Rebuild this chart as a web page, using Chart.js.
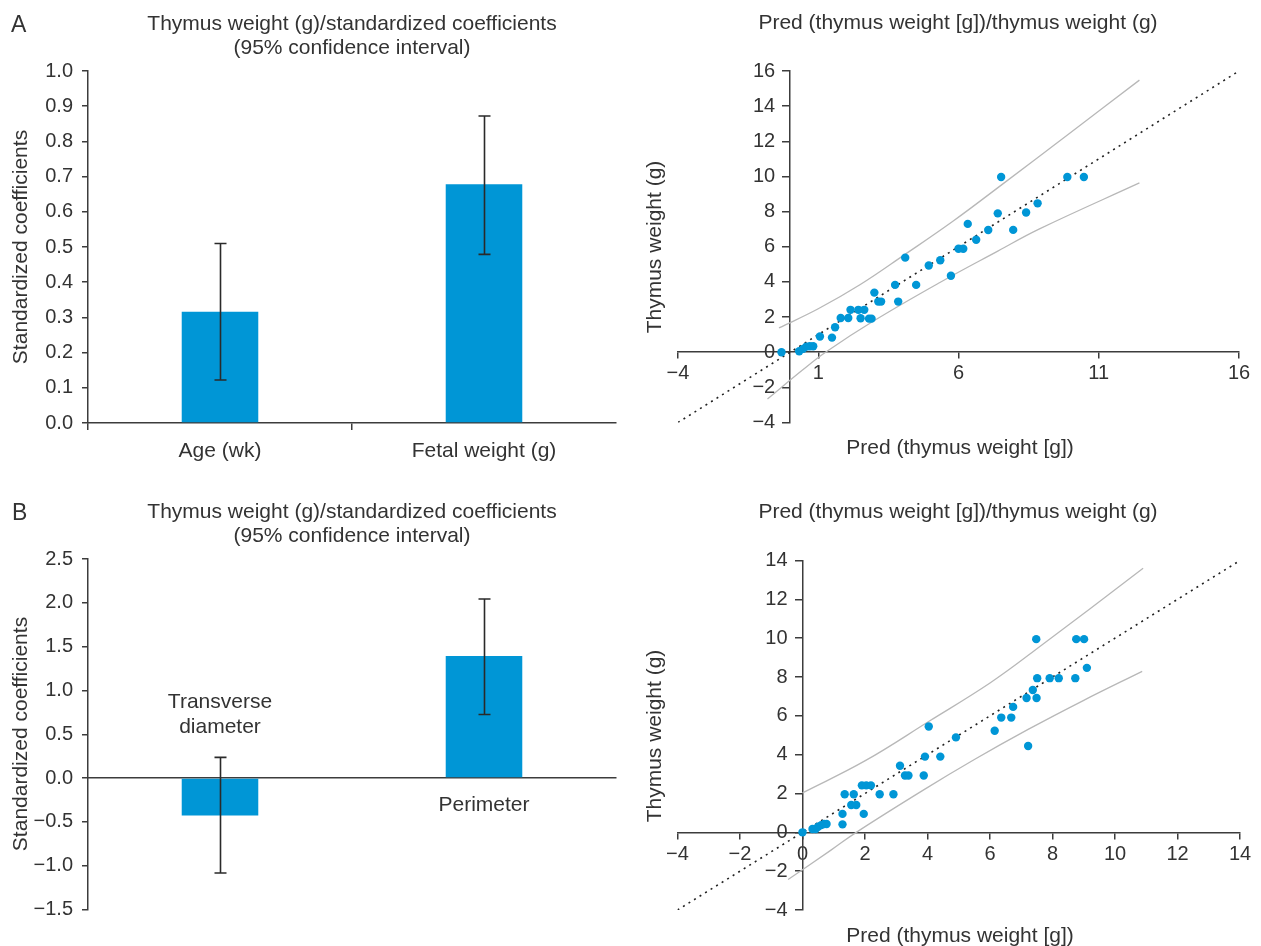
<!DOCTYPE html>
<html>
<head>
<meta charset="utf-8">
<script src="https://cdn.jsdelivr.net/npm/chart.js@4.4.1/dist/chart.umd.min.js"></script>
<style>
  html, body { margin: 0; padding: 0; background: #fff; }
  #wrap { position: relative; width: 1261px; height: 946px; overflow: hidden;
          font-family: "Liberation Sans", Arial, sans-serif; color: #333; }
  canvas { position: absolute; }
  .t { position: absolute; white-space: nowrap; font-size: 21px; line-height: 24px;
       text-align: center; transform: translate(-50%, -50%); }
  .rot { transform: translate(-50%, -50%) rotate(-90deg); }
  .lt { position: absolute; font-size: 23px; line-height: 26px; transform: translateY(-50%); }
</style>
</head>
<body>
<div id="wrap">
  <canvas id="cA" width="630" height="470" style="left:0;top:0"></canvas>
  <canvas id="cB" width="630" height="476" style="left:0;top:470px"></canvas>
  <canvas id="cC" width="631" height="470" style="left:630px;top:0"></canvas>
  <canvas id="cD" width="631" height="476" style="left:630px;top:470px"></canvas>

  <div class="lt" style="left:11px;top:24px">A</div>
  <div class="t" style="left:352px;top:35px">Thymus weight (g)/standardized coefficients<br>(95% confidence interval)</div>
  <div class="t rot" style="left:20px;top:247px">Standardized coefficients</div>

  <div class="lt" style="left:12px;top:512px">B</div>
  <div class="t" style="left:352px;top:523px">Thymus weight (g)/standardized coefficients<br>(95% confidence interval)</div>
  <div class="t rot" style="left:20px;top:734px">Standardized coefficients</div>

  <div class="t" style="left:958px;top:22px">Pred (thymus weight [g])/thymus weight (g)</div>
  <div class="t rot" style="left:654px;top:247px">Thymus weight (g)</div>
  <div class="t" style="left:960px;top:447px">Pred (thymus weight [g])</div>

  <div class="t" style="left:958px;top:511px">Pred (thymus weight [g])/thymus weight (g)</div>
  <div class="t rot" style="left:654px;top:736px">Thymus weight (g)</div>
  <div class="t" style="left:960px;top:935px">Pred (thymus weight [g])</div>
</div>
<script>
// ---------------- Data ----------------
// Panel A: standardized coefficients (95% CI)
const categoriesA = ['Age (wk)', 'Fetal weight (g)'];
const coefA = [0.316, 0.678];
const ciLowA = [0.122, 0.479];
const ciHighA = [0.510, 0.872];
const yTicksA = [0, 0.1, 0.2, 0.3, 0.4, 0.5, 0.6, 0.7, 0.8, 0.9, 1.0];

// Panel B
const categoriesB = [['Transverse', 'diameter'], ['Perimeter']];
const coefB = [-0.426, 1.394];
const ciLowB = [-1.083, 0.726];
const ciHighB = [0.236, 2.044];
const yTicksB = [-1.5, -1.0, -0.5, 0, 0.5, 1.0, 1.5, 2.0, 2.5];

// Panel C: predicted vs observed thymus weight
const predC = [-0.31, 0.32, 0.46, 0.58, 0.70, 0.82, 1.06, 1.49, 1.60, 1.80, 2.07, 2.15, 2.43, 2.51, 2.64, 2.81,
  2.90, 3.00, 3.14, 3.24, 3.74, 3.85, 4.10, 4.49, 4.94, 5.35, 5.73, 6.00, 6.17, 6.33, 6.63, 7.06, 7.40, 7.52,
  7.95, 8.41, 8.82, 9.88, 10.47];
const obsC = [0, 0.05, 0.19, 0.32, 0.34, 0.34, 0.89, 0.83, 1.42, 1.95, 1.95, 2.41, 2.41, 1.93, 2.41, 1.91,
  1.91, 3.39, 2.88, 2.88, 3.83, 2.88, 5.38, 3.83, 4.93, 5.23, 4.35, 5.89, 5.89, 7.30, 6.40, 6.95, 7.90, 9.97,
  6.96, 7.95, 8.47, 9.97, 9.97];
const upperBandCx = [-0.40, 1.00, 2.50, 4.08, 5.80, 7.56, 10.00, 12.45];
const upperBandCy = [1.38, 2.47, 3.85, 5.55, 7.45, 9.55, 12.50, 15.48];
const lowerBandCx = [-0.81, 0.45, 1.26, 3.00, 5.32, 7.40, 8.87, 12.45];
const lowerBandCy = [-2.66, -1.00, 0.00, 1.80, 3.95, 5.75, 7.00, 9.63];
const identityC = [-4, 15.9];
const xTicksC = [-4, 1, 6, 11, 16];
const yTicksC = [-4, -2, 0, 2, 4, 6, 8, 10, 12, 14, 16];

// Panel D
const predD = [0, 0.32, 0.42, 0.50, 0.60, 0.69, 0.77, 1.28, 1.28, 1.35, 1.56, 1.64, 1.72, 1.96, 1.90, 2.04,
  2.19, 2.47, 2.91, 3.12, 3.28, 3.39, 3.88, 3.92, 4.04, 4.41, 4.91, 6.15, 6.36, 6.68, 6.74, 7.17, 7.22, 7.37,
  7.49, 7.48, 7.51, 7.91, 8.20, 8.73, 8.76, 9.01, 9.10];
const obsD = [0, 0.17, 0.17, 0.29, 0.37, 0.43, 0.43, 0.41, 0.95, 1.96, 1.41, 1.96, 1.41, 0.95, 2.42, 2.42,
  2.42, 1.96, 1.96, 3.43, 2.93, 2.93, 2.93, 3.90, 5.45, 3.90, 4.89, 5.23, 5.91, 5.91, 6.46, 6.92, 4.45, 7.33,
  6.92, 9.95, 7.94, 7.94, 7.94, 7.94, 9.95, 9.95, 8.47];
const upperBandDx = [0, 2.01, 4.05, 6.00, 7.50, 10.90];
const upperBandDy = [2.03, 3.69, 5.72, 7.69, 9.45, 13.60];
const lowerBandDx = [-0.46, 0.90, 1.72, 3.89, 5.50, 7.22, 9.00, 10.87];
const lowerBandDy = [-2.43, -0.93, 0.00, 2.20, 3.75, 5.30, 6.80, 8.29];
const identityD = [-4, 13.93];
const xTicksD = [-4, -2, 0, 2, 4, 6, 8, 10, 12, 14];
const yTicksD = [-4, -2, 0, 2, 4, 6, 8, 10, 12, 14];

// ---------------- Styling ----------------
const BLUE = '#0096d6';
const AXIS = '#3c3c3c';
const TXT = '#333333';
const BAND = '#b8b8b8';
const FONT = "'Liberation Sans', Arial, sans-serif";
Chart.defaults.font.family = FONT;
Chart.defaults.color = TXT;
Chart.defaults.animation = false;

const minus = s => String(s).replace('-', '\u2212');
const fmt1 = v => minus(Number(v).toFixed(1));
const fmt0 = v => minus(String(v));
const pts = (xs, ys) => xs.map((x, i) => ({ x: x, y: ys[i] }));
const setTicks = arr => (s => { s.ticks = arr.map(v => ({ value: v })); });

const errorBars = {
  id: 'errorBars',
  afterDatasetsDraw(chart, args, opts) {
    const ctx = chart.ctx;
    const meta = chart.getDatasetMeta(0);
    const ys = chart.scales.y;
    ctx.save();
    ctx.strokeStyle = '#2a2a2a';
    ctx.lineWidth = 1.6;
    meta.data.forEach((bar, i) => {
      const x = Math.round(bar.x) + 0.5;
      const yl = ys.getPixelForValue(opts.low[i]);
      const yh = ys.getPixelForValue(opts.high[i]);
      ctx.beginPath();
      ctx.moveTo(x, yl); ctx.lineTo(x, yh);
      ctx.moveTo(x - 6, yl); ctx.lineTo(x + 6, yl);
      ctx.moveTo(x - 6, yh); ctx.lineTo(x + 6, yh);
      ctx.stroke();
    });
    ctx.restore();
  }
};

const axisLabelsB = {
  id: 'axisLabelsB',
  afterDraw(chart) {
    const ctx = chart.ctx;
    const xs = chart.scales.x, ys = chart.scales.y;
    const y0 = ys.getPixelForValue(0);
    const vals = chart.data.datasets[0].data;
    ctx.save();
    ctx.font = '21px ' + FONT;
    ctx.fillStyle = TXT;
    ctx.textAlign = 'center';
    ctx.textBaseline = 'middle';
    chart.data.labels.forEach((lab, i) => {
      const lines = Array.isArray(lab) ? lab : [lab];
      const x = xs.getPixelForValue(i);
      if (vals[i] < 0) {
        lines.forEach((ln, k) => ctx.fillText(ln, x, y0 - 76 + k * 25));
      } else {
        lines.forEach((ln, k) => ctx.fillText(ln, x, y0 + 27 + k * 25));
      }
    });
    ctx.restore();
  }
};

// y tick labels for the axis that crosses the chart at x = 0 (kept off the axis line)
const crossYLabels = {
  id: 'crossYLabels',
  afterDraw(chart) {
    const ctx = chart.ctx;
    const xs = chart.scales.x, ys = chart.scales.y;
    const xAxis = xs.getPixelForValue(0);
    ctx.save();
    ctx.font = '20px ' + FONT;
    ctx.fillStyle = TXT;
    ctx.textAlign = 'right';
    ctx.textBaseline = 'middle';
    ys.ticks.forEach(t => {
      ctx.fillText(fmt0(t.value), xAxis - 15, ys.getPixelForValue(t.value));
    });
    ctx.restore();
  }
};

const lineGrid = (len) => ({ drawOnChartArea: false, tickLength: len, color: AXIS, lineWidth: 1.5 });
const border = { color: AXIS, width: 1.5 };

// ---------------- Panel A ----------------
new Chart(document.getElementById('cA'), {
  type: 'bar',
  data: { labels: categoriesA,
    datasets: [{ data: coefA, backgroundColor: BLUE, barPercentage: 0.29, categoryPercentage: 1 }] },
  options: {
    responsive: false, animation: false,
    layout: { padding: { left: 0, top: 71, right: 14, bottom: 0 } },
    plugins: { legend: { display: false }, tooltip: { enabled: false },
      errorBars: { low: ciLowA, high: ciHighA } },
    scales: {
      x: { grid: { drawOnChartArea: false, offset: true, tickLength: 7, lineWidth: 1.5,
                   color: c => (c.type === 'tick' ? AXIS : 'rgba(0,0,0,0)') },
           border: border,
           ticks: { font: { size: 21 }, color: TXT, padding: 9 },
           afterFit: s => { s.height = 47; } },
      y: { min: 0, max: 1, afterBuildTicks: setTicks(yTicksA),
           grid: lineGrid(6), border: border,
           ticks: { font: { size: 20 }, color: TXT, padding: 9, callback: v => fmt1(v) },
           afterFit: s => { s.width = 88; } }
    }
  },
  plugins: [errorBars]
});

// ---------------- Panel B ----------------
new Chart(document.getElementById('cB'), {
  type: 'bar',
  data: { labels: categoriesB,
    datasets: [{ data: coefB, backgroundColor: BLUE, barPercentage: 0.29, categoryPercentage: 1 }] },
  options: {
    responsive: false, animation: false,
    layout: { padding: { left: 0, top: 89, right: 14, bottom: 36.5 } },
    plugins: { legend: { display: false }, tooltip: { enabled: false },
      errorBars: { low: ciLowB, high: ciHighB } },
    scales: {
      x: { position: { y: 0 }, grid: { drawOnChartArea: false, drawTicks: false, color: AXIS, lineWidth: 1.5 },
           border: border, ticks: { display: false } },
      y: { min: -1.5, max: 2.5, afterBuildTicks: setTicks(yTicksB),
           grid: lineGrid(6), border: border,
           ticks: { font: { size: 20 }, color: TXT, padding: 9, callback: v => fmt1(v) },
           afterFit: s => { s.width = 88; } }
    }
  },
  plugins: [errorBars, axisLabelsB]
});

// ---------------- Scatter panels ----------------
function scatterPanel(id, pad, px, py, ux, uy, lx, ly, ident, xmin, xmax, ymin, ymax, xt, yt, xpad) {
  return new Chart(document.getElementById(id), {
    type: 'scatter',
    data: { datasets: [
      { data: pts(px, py), backgroundColor: BLUE, borderWidth: 0, pointRadius: 4.2, order: 0 },
      { type: 'line', data: pts(ident, ident), borderColor: '#222', borderWidth: 1.6, borderDash: [2, 4.5],
        pointRadius: 0, fill: false, order: 1 },
      { type: 'line', data: pts(ux, uy), borderColor: BAND, borderWidth: 1.3, pointRadius: 0, fill: false,
        tension: 0.4, order: 2 },
      { type: 'line', data: pts(lx, ly), borderColor: BAND, borderWidth: 1.3, pointRadius: 0, fill: false,
        tension: 0.4, order: 2 }
    ] },
    options: {
      responsive: false, animation: false,
      layout: { padding: pad },
      plugins: { legend: { display: false }, tooltip: { enabled: false } },
      scales: {
        x: { type: 'linear', position: { y: 0 }, min: xmin, max: xmax, afterBuildTicks: setTicks(xt),
             grid: lineGrid(6), border: border,
             ticks: { font: { size: 20 }, color: TXT, padding: xpad, maxRotation: 0, callback: v => fmt0(v) } },
        y: { type: 'linear', position: { x: 0 }, min: ymin, max: ymax, afterBuildTicks: setTicks(yt),
             grid: lineGrid(7), border: border,
             ticks: { display: false } }
      }
    },
    plugins: [crossYLabels]
  });
}

scatterPanel('cC', { left: 48, right: 22, top: 71, bottom: 47.5 },
  predC, obsC, upperBandCx, upperBandCy, lowerBandCx, lowerBandCy, identityC,
  -4, 16, -4, 16, xTicksC, yTicksC, 3);

scatterPanel('cD', { left: 47.5, right: 21, top: 90.5, bottom: 36 },
  predD, obsD, upperBandDx, upperBandDy, lowerBandDx, lowerBandDy, identityD,
  -4, 14, -4, 14, xTicksD, yTicksD, 4);
</script>
</body>
</html>
